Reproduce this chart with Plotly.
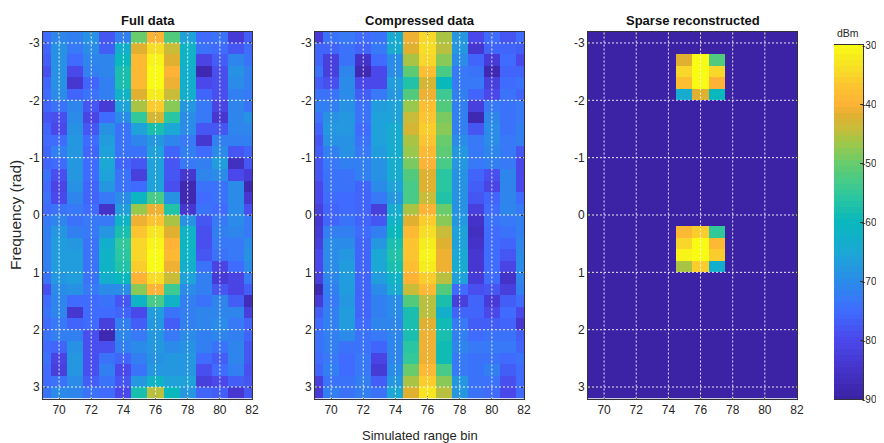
import plotly.graph_objects as go

range_bins = [69, 70, 71, 72, 73, 74, 75, 76, 77, 78, 79, 80, 81, 82]
frequency = [-3.1, -2.9, -2.7, -2.5, -2.3, -2.1, -1.9, -1.7, -1.5, -1.3, -1.1, -0.9, -0.7, -0.5, -0.3, -0.1,
             0.1, 0.3, 0.5, 0.7, 0.9, 1.1, 1.3, 1.5, 1.7, 1.9, 2.1, 2.3, 2.5, 2.7, 2.9, 3.1]

full_data = [
    [-75,-71,-72,-69,-78,-72,-50,-40,-52,-66,-75,-74,-83,-77],
    [-76,-69,-73,-70,-77,-63,-42,-34,-44,-62,-74,-75,-78,-75],
    [-77,-69,-75,-71,-71,-60,-39,-31,-42,-62,-81,-77,-71,-74],
    [-79,-69,-80,-72,-71,-58,-39,-30,-40,-63,-88,-79,-69,-72],
    [-76,-69,-84,-76,-72,-58,-39,-30,-41,-63,-80,-79,-70,-72],
    [-75,-70,-76,-74,-72,-62,-42,-32,-44,-63,-76,-79,-72,-73],
    [-76,-74,-71,-78,-83,-66,-46,-36,-48,-68,-73,-81,-71,-74],
    [-78,-79,-70,-81,-75,-70,-55,-43,-56,-70,-73,-84,-71,-69],
    [-76,-80,-69,-78,-69,-74,-66,-58,-65,-70,-78,-78,-71,-71],
    [-75,-75,-68,-75,-67,-74,-71,-68,-71,-73,-84,-72,-72,-72],
    [-76,-72,-68,-76,-66,-74,-74,-66,-76,-72,-75,-70,-78,-76],
    [-76,-75,-68,-75,-65,-76,-78,-66,-78,-73,-72,-67,-86,-78],
    [-74,-79,-68,-75,-66,-74,-82,-66,-78,-84,-71,-70,-80,-83],
    [-75,-81,-69,-76,-68,-74,-75,-66,-79,-88,-74,-74,-70,-88],
    [-74,-80,-71,-76,-73,-70,-61,-53,-69,-88,-75,-74,-70,-84],
    [-75,-74,-73,-75,-85,-67,-47,-41,-57,-84,-74,-75,-70,-79],
    [-73,-71,-74,-73,-73,-62,-41,-37,-46,-69,-78,-73,-70,-73],
    [-72,-68,-72,-73,-68,-58,-37,-33,-42,-62,-79,-72,-71,-73],
    [-72,-67,-68,-74,-63,-55,-35,-31,-40,-61,-79,-73,-73,-70],
    [-72,-67,-67,-74,-62,-56,-35,-30,-39,-62,-78,-74,-73,-69],
    [-72,-67,-67,-74,-62,-57,-36,-30,-41,-63,-74,-81,-75,-70],
    [-74,-68,-67,-74,-63,-60,-40,-34,-44,-66,-72,-83,-81,-73],
    [-79,-70,-69,-73,-70,-70,-48,-40,-54,-70,-72,-78,-81,-77],
    [-75,-71,-75,-75,-74,-78,-62,-53,-62,-72,-74,-71,-77,-87],
    [-74,-71,-84,-75,-75,-76,-80,-67,-74,-72,-71,-71,-71,-82],
    [-75,-73,-76,-75,-82,-72,-77,-68,-77,-72,-71,-70,-73,-76],
    [-74,-72,-72,-79,-88,-71,-73,-68,-73,-70,-72,-71,-72,-76],
    [-75,-76,-69,-79,-79,-72,-70,-68,-70,-69,-72,-74,-71,-78],
    [-74,-81,-68,-79,-74,-76,-72,-69,-68,-68,-75,-77,-71,-78],
    [-75,-82,-68,-79,-72,-80,-74,-68,-68,-68,-79,-75,-72,-79],
    [-75,-74,-70,-77,-74,-78,-68,-62,-66,-66,-82,-80,-77,-78],
    [-74,-70,-71,-74,-75,-80,-58,-45,-60,-68,-76,-77,-84,-78],
]

compressed_data = [
    [-83,-74,-73,-75,-74,-64,-41,-35,-46,-68,-80,-75,-78,-75],
    [-76,-76,-74,-76,-73,-64,-42,-34,-45,-68,-84,-76,-76,-77],
    [-76,-82,-74,-85,-75,-70,-46,-35,-48,-70,-76,-83,-75,-80],
    [-74,-82,-71,-88,-80,-70,-51,-38,-53,-73,-74,-88,-76,-76],
    [-77,-79,-70,-80,-80,-67,-57,-43,-60,-73,-73,-82,-75,-74],
    [-74,-74,-70,-77,-73,-68,-52,-41,-54,-72,-76,-80,-74,-76],
    [-72,-72,-69,-74,-67,-66,-47,-38,-52,-72,-82,-73,-74,-73],
    [-74,-69,-68,-74,-66,-66,-44,-37,-49,-72,-88,-71,-74,-73],
    [-76,-68,-68,-75,-66,-64,-43,-36,-48,-72,-78,-70,-74,-72],
    [-78,-69,-69,-74,-66,-64,-46,-37,-50,-70,-73,-70,-73,-72],
    [-77,-72,-69,-73,-67,-64,-47,-39,-51,-68,-73,-71,-73,-78],
    [-78,-73,-72,-72,-69,-64,-49,-40,-53,-68,-73,-72,-73,-80],
    [-78,-74,-74,-72,-69,-64,-52,-42,-56,-69,-76,-79,-71,-80],
    [-80,-74,-74,-76,-70,-66,-53,-42,-56,-69,-77,-81,-71,-80],
    [-80,-75,-75,-76,-73,-68,-53,-44,-57,-69,-78,-76,-71,-75],
    [-82,-76,-75,-76,-82,-64,-46,-40,-50,-69,-82,-75,-71,-73],
    [-84,-76,-74,-76,-78,-62,-42,-36,-48,-68,-85,-74,-73,-72],
    [-83,-72,-72,-75,-72,-60,-39,-34,-44,-66,-86,-75,-74,-72],
    [-82,-70,-70,-76,-68,-58,-37,-32,-42,-66,-85,-75,-76,-71],
    [-80,-70,-68,-76,-65,-57,-37,-31,-41,-65,-84,-75,-78,-70],
    [-80,-70,-67,-76,-65,-58,-38,-32,-41,-64,-84,-75,-81,-70],
    [-82,-71,-67,-76,-67,-62,-40,-36,-45,-66,-83,-75,-85,-71],
    [-88,-72,-67,-76,-70,-64,-44,-39,-52,-75,-79,-78,-82,-72],
    [-83,-73,-68,-76,-72,-70,-52,-45,-58,-82,-76,-83,-77,-75],
    [-77,-72,-67,-76,-72,-70,-58,-45,-63,-76,-76,-80,-75,-80],
    [-75,-72,-67,-75,-71,-71,-58,-42,-59,-73,-77,-77,-76,-84],
    [-74,-72,-70,-74,-73,-71,-58,-41,-58,-72,-75,-74,-74,-77],
    [-74,-72,-74,-74,-76,-71,-56,-41,-59,-71,-73,-73,-73,-76],
    [-75,-73,-75,-73,-81,-71,-55,-41,-59,-73,-74,-74,-75,-74],
    [-76,-72,-75,-73,-83,-70,-50,-39,-53,-73,-74,-72,-77,-75],
    [-82,-74,-74,-72,-77,-68,-46,-36,-48,-68,-74,-74,-79,-75],
    [-83,-72,-74,-72,-74,-65,-42,-33,-45,-68,-74,-75,-80,-75],
]

bg = -90
sparse_data = [[bg] * 14 for _ in frequency]
sparse_data[2][6:9] = [-42, -30, -52]
sparse_data[3][6:9] = [-35, -30, -35]
sparse_data[4][6:9] = [-38, -30, -40]
sparse_data[5][6:9] = [-64, -42, -60]
sparse_data[17][6:9] = [-39, -36, -55]
sparse_data[18][6:9] = [-35, -30, -39]
sparse_data[19][6:9] = [-31, -30, -36]
sparse_data[20][6:9] = [-46, -36, -63]

titles = ["Full data", "Compressed data", "Sparse reconstructed"]
x_ticks = [70, 72, 74, 76, 78, 80, 82]
y_ticks = [-3, -2, -1, 0, 1, 2, 3]
cbar_ticks = [-30, -40, -50, -60, -70, -80, -90]
cbar_levels = list(range(-90, -29))

VMIN, VMAX = -90, -30
stops = [(-90, "#3c23a5"), (-85, "#4433c8"), (-80, "#4a48ea"), (-75, "#3f6cff"), (-70, "#2a8ce8"),
         (-65, "#1ba8d5"), (-60, "#08b8bc"), (-55, "#32c89a"), (-50, "#68cc6c"), (-47, "#9ac84c"),
         (-44, "#c8bc38"), (-42, "#e0b030"), (-40, "#feb236"), (-37, "#fcc430"), (-35, "#f8d62a"),
         (-32, "#f6ec1c"), (-30, "#f9fb15")]
parula = [[(v - VMIN) / (VMAX - VMIN), c] for v, c in stops]

# the page body has an 8 px margin: the figure begins at (8, 8) of the window
PAGE_OFFSET = 8
W, H = 884, 443


def px(x):
    return (x - PAGE_OFFSET) / W


def py(y):
    return 1 - (y - PAGE_OFFSET) / H


panel_x = [(43, 252), (315, 524), (588, 797)]
top, bottom = 31.5, 398.5
FONT = "Liberation Sans"
TXT = "#262626"
LINE = "#333333"

axis_common = dict(
    automargin=False, showgrid=False, zeroline=False, showline=True, mirror="ticks", linecolor=LINE, linewidth=1,
    ticks="inside", ticklen=3, tickcolor=LINE, tickwidth=1,
    tickfont=dict(family=FONT, size=12, color=TXT), layer="above traces",
)

fig = go.Figure()
for i, (z, title) in enumerate(zip([full_data, compressed_data, sparse_data], titles)):
    n = i + 1
    sfx = "" if n == 1 else str(n)
    fig.add_trace(go.Heatmap(
        x=range_bins, y=frequency, z=z, zmin=VMIN, zmax=VMAX, colorscale=parula, showscale=False,
        xaxis=f"x{sfx}", yaxis=f"y{sfx}",
    ))
    fig.update_layout({
        f"xaxis{sfx}": dict(
            axis_common, domain=[px(panel_x[i][0]), px(panel_x[i][1])], range=[69, 82], anchor=f"y{sfx}",
            tickmode="array", tickvals=x_ticks, ticktext=[str(t) for t in x_ticks],
        ),
        f"yaxis{sfx}": dict(
            axis_common, domain=[py(bottom), py(top)], range=[3.2, -3.2], anchor=f"x{sfx}",
            tickmode="array", tickvals=y_ticks, ticktext=[str(t) for t in y_ticks],
        ),
    })
    grid = dict(color="rgba(255,255,255,0.9)", width=1, dash="2px,2px")
    xref, yref = f"x{sfx}", f"y{sfx}"
    for t in x_ticks[:-1]:
        fig.add_shape(type="line", xref=xref, yref=f"{yref} domain", x0=t, x1=t, y0=0, y1=1, line=grid, layer="above")
    for t in y_ticks:
        fig.add_shape(type="line", xref=f"{xref} domain", yref=yref, x0=0, x1=1, y0=t, y1=t, line=grid, layer="above")
    fig.add_annotation(
        text=f"<b>{title}</b>", xref=f"{xref} domain", yref=f"{yref} domain", x=0.5, y=1,
        xanchor="center", yanchor="bottom", yshift=1,
        showarrow=False, font=dict(family=FONT, size=13, color="#111111"),
    )

# colour bar drawn on its own axes
fig.add_trace(go.Heatmap(
    x=[0], y=cbar_levels, z=[[v] for v in cbar_levels], zmin=VMIN, zmax=VMAX, colorscale=parula,
    showscale=False, xaxis="x4", yaxis="y4",
))
fig.update_layout(
    xaxis4=dict(automargin=False, domain=[px(834), px(863)], range=[-0.5, 0.5], anchor="y4", showticklabels=False, ticks="",
                showgrid=False, zeroline=False, showline=True, mirror=True, linecolor=LINE, linewidth=1),
    yaxis4=dict(axis_common, domain=[py(399), py(45)], range=[VMIN, VMAX], anchor="x4", side="right",
                mirror=False, tickmode="array", tickvals=cbar_ticks, ticktext=[str(t) for t in cbar_ticks],
                ticklabelstandoff=-4, tickfont=dict(family=FONT, size=10, color=TXT)),
)

fig.add_annotation(
    text="Frequency (rad)", xref="paper", yref="paper", x=px(16), y=py(215), textangle=-90,
    xanchor="center", yanchor="middle", showarrow=False, font=dict(family=FONT, size=15.5, color=TXT),
)
fig.add_annotation(
    text="Simulated range bin", xref="paper", yref="paper", x=px(420), y=py(435),
    xanchor="center", yanchor="middle", showarrow=False, font=dict(family=FONT, size=13, color=TXT),
)
fig.add_annotation(
    text="dBm", xref="paper", yref="paper", x=px(848), y=py(33),
    xanchor="center", yanchor="middle", showarrow=False, font=dict(family=FONT, size=10.5, color=TXT),
)

fig.update_layout(
    width=W, height=H, margin=dict(l=0, r=0, t=0, b=0), showlegend=False,
    paper_bgcolor="white", plot_bgcolor="white",
)

# keep the page free of scrollbars
fig.write_html("out.html", post_script="document.documentElement.style.overflow='hidden';")
